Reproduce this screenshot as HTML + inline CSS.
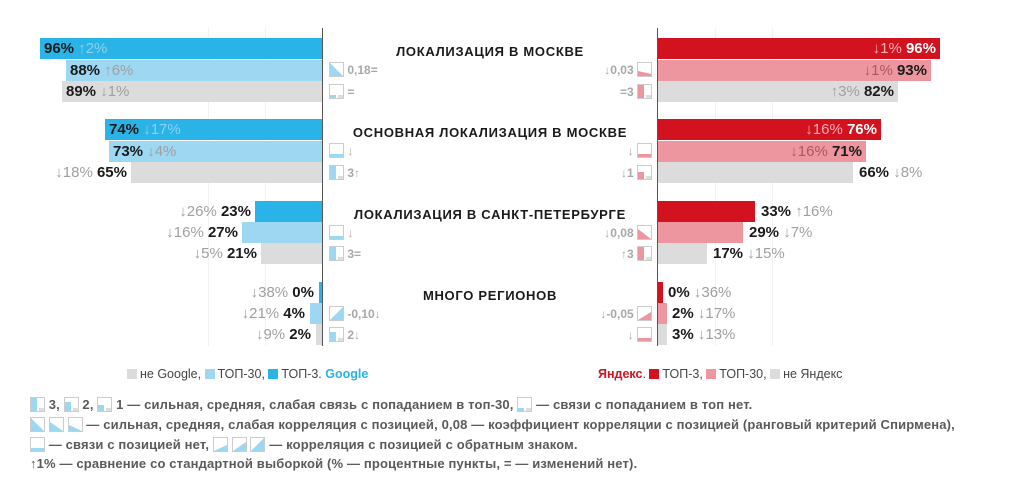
<!DOCTYPE html>
<html><head><meta charset="utf-8"><style>
body{margin:0;width:1024px;height:492px;background:#fff;position:relative;overflow:hidden;font-family:"Liberation Sans",sans-serif}
.b{position:absolute;height:21px}
.t{position:absolute;font-size:15px;font-weight:bold;color:#1a1a1a;line-height:21px;white-space:nowrap}
.t i{font-style:normal;color:#a0a0a0;font-weight:normal}
.h{position:absolute;left:322px;width:336px;text-align:center;font-size:13px;font-weight:bold;letter-spacing:0.7px;color:#1a1a1a}
.ic{position:absolute;font-size:12px;color:#a8a8a8;font-weight:bold;line-height:16px;white-space:nowrap}
.vl{position:absolute;top:28px;height:318px;width:1px;background:#555}
.g{position:absolute;top:28px;height:318px;width:1px;background:#f2f2f2}
.lg{position:absolute;top:367px;font-size:12.5px;color:#444;white-space:nowrap}
.sq{display:inline-block;width:10px;height:10px;vertical-align:-1px;margin-right:3px}
.fn{position:absolute;left:30px;font-size:13px;font-weight:bold;color:#5a5a5a;white-space:nowrap;letter-spacing:0.15px}
svg{vertical-align:-3px}
</style></head><body>
<div class="g" style="left:208px"></div><div class="g" style="left:265px"></div>
<div class="g" style="left:715px"></div><div class="g" style="left:772px"></div>
<div class="vl" style="left:322px"></div><div class="vl" style="left:657px"></div>

<div class="b" style="top:38px;left:40px;width:282px;background:#29b3e6"></div>
<div class="b" style="top:60px;left:66px;width:256px;background:#9dd7f1"></div>
<div class="b" style="top:81px;left:62px;width:260px;background:#dcdcdc"></div>
<div class="b" style="top:119px;left:105px;width:217px;background:#29b3e6"></div>
<div class="b" style="top:141px;left:109px;width:213px;background:#9dd7f1"></div>
<div class="b" style="top:162px;left:131px;width:191px;background:#dcdcdc"></div>
<div class="b" style="top:201px;left:255px;width:67px;background:#29b3e6"></div>
<div class="b" style="top:222px;left:242px;width:80px;background:#9dd7f1"></div>
<div class="b" style="top:243px;left:261px;width:61px;background:#dcdcdc"></div>
<div class="b" style="top:282px;left:319px;width:3px;background:#29b3e6"></div>
<div class="b" style="top:303px;left:310px;width:12px;background:#9dd7f1"></div>
<div class="b" style="top:324px;left:316px;width:6px;background:#dcdcdc"></div>

<div class="t" style="top:38px;left:44px">96% <i style="color:#8fd0ee">↑2%</i></div>
<div class="t" style="top:60px;left:70px">88% <i>↑6%</i></div>
<div class="t" style="top:81px;left:66px">89% <i>↓1%</i></div>
<div class="t" style="top:119px;left:109px">74% <i style="color:#8fd0ee">↓17%</i></div>
<div class="t" style="top:141px;left:113px">73% <i>↓4%</i></div>
<div class="t" style="top:162px;right:897px"><i>↓18%</i> 65%</div>
<div class="t" style="top:201px;right:773px"><i>↓26%</i> 23%</div>
<div class="t" style="top:222px;right:786px"><i>↓16%</i> 27%</div>
<div class="t" style="top:243px;right:767px"><i>↓5%</i> 21%</div>
<div class="t" style="top:282px;right:710px"><i>↓38%</i> 0%</div>
<div class="t" style="top:303px;right:719px"><i>↓21%</i> 4%</div>
<div class="t" style="top:324px;right:713px"><i>↓9%</i> 2%</div>

<div class="b" style="top:38px;left:658px;width:282px;background:#d2121f"></div>
<div class="b" style="top:60px;left:658px;width:273px;background:#ee969f"></div>
<div class="b" style="top:81px;left:658px;width:240px;background:#dcdcdc"></div>
<div class="b" style="top:119px;left:658px;width:223px;background:#d2121f"></div>
<div class="b" style="top:141px;left:658px;width:208px;background:#ee969f"></div>
<div class="b" style="top:162px;left:658px;width:195px;background:#dcdcdc"></div>
<div class="b" style="top:201px;left:658px;width:97px;background:#d2121f"></div>
<div class="b" style="top:222px;left:658px;width:85px;background:#ee969f"></div>
<div class="b" style="top:243px;left:658px;width:49px;background:#dcdcdc"></div>
<div class="b" style="top:282px;left:658px;width:5px;background:#d2121f"></div>
<div class="b" style="top:303px;left:658px;width:9px;background:#ee969f"></div>
<div class="b" style="top:324px;left:658px;width:9px;background:#dcdcdc"></div>

<div class="t" style="top:38px;right:88px"><i style="color:#f3b0b6">↓1%</i> <span style="color:#fff">96%</span></div>
<div class="t" style="top:60px;right:97px"><i style="color:#b05560">↓1%</i> 93%</div>
<div class="t" style="top:81px;right:130px"><i>↑3%</i> 82%</div>
<div class="t" style="top:119px;right:147px"><i style="color:#f3b0b6">↓16%</i> <span style="color:#fff">76%</span></div>
<div class="t" style="top:141px;right:162px"><i style="color:#b05560">↓16%</i> 71%</div>
<div class="t" style="top:162px;left:859px">66% <i>↓8%</i></div>
<div class="t" style="top:201px;left:761px">33% <i>↑16%</i></div>
<div class="t" style="top:222px;left:749px">29% <i>↓7%</i></div>
<div class="t" style="top:243px;left:713px">17% <i>↓15%</i></div>
<div class="t" style="top:282px;left:668px">0% <i>↓36%</i></div>
<div class="t" style="top:303px;left:672px">2% <i>↓17%</i></div>
<div class="t" style="top:324px;left:672px">3% <i>↓13%</i></div>

<div class="h" style="top:44px">ЛОКАЛИЗАЦИЯ В МОСКВЕ</div>
<div class="h" style="top:125px">ОСНОВНАЯ ЛОКАЛИЗАЦИЯ В МОСКВЕ</div>
<div class="h" style="top:207px">ЛОКАЛИЗАЦИЯ В САНКТ-ПЕТЕРБУРГЕ</div>
<div class="h" style="top:288px">МНОГО РЕГИОНОВ</div>

<div class="ic" style="top:62px;left:329px"><svg width="15" height="15"><rect x=".5" y=".5" width="14" height="14" fill="#fff" stroke="#ccc"/><polygon points="1,1 14,14 1,14" fill="#9dd7f1"/></svg> 0,18=</div>
<div class="ic" style="top:84px;left:329px"><svg width="15" height="15"><rect x=".5" y=".5" width="14" height="14" fill="#fff" stroke="#ccc"/><rect x="1" y="11" width="6" height="3" fill="#9dd7f1"/><rect x="9" y="11" width="5" height="3" fill="#ddd"/></svg> =</div>
<div class="ic" style="top:143px;left:329px"><svg width="15" height="15"><rect x=".5" y=".5" width="14" height="14" fill="#fff" stroke="#ccc"/><rect x="1" y="11" width="13" height="3" fill="#9dd7f1"/></svg> ↓</div>
<div class="ic" style="top:165px;left:329px"><svg width="15" height="15"><rect x=".5" y=".5" width="14" height="14" fill="#fff" stroke="#ccc"/><rect x="1" y="1" width="6" height="13" fill="#9dd7f1"/><rect x="9" y="11" width="5" height="3" fill="#ddd"/></svg> 3↑</div>
<div class="ic" style="top:225px;left:329px"><svg width="15" height="15"><rect x=".5" y=".5" width="14" height="14" fill="#fff" stroke="#ccc"/><rect x="1" y="11" width="13" height="3" fill="#9dd7f1"/></svg> ↓</div>
<div class="ic" style="top:246px;left:329px"><svg width="15" height="15"><rect x=".5" y=".5" width="14" height="14" fill="#fff" stroke="#ccc"/><rect x="1" y="1" width="6" height="13" fill="#9dd7f1"/><rect x="9" y="11" width="5" height="3" fill="#ddd"/></svg> 3=</div>
<div class="ic" style="top:306px;left:329px"><svg width="15" height="15"><rect x=".5" y=".5" width="14" height="14" fill="#fff" stroke="#ccc"/><polygon points="1,14 14,1 14,14" fill="#9dd7f1"/></svg> -0,10↓</div>
<div class="ic" style="top:327px;left:329px"><svg width="15" height="15"><rect x=".5" y=".5" width="14" height="14" fill="#fff" stroke="#ccc"/><rect x="1" y="5" width="6" height="9" fill="#9dd7f1"/><rect x="9" y="11" width="5" height="3" fill="#ddd"/></svg> 2↓</div>

<div class="ic" style="top:62px;right:372px">↓0,03 <svg width="15" height="15"><rect x=".5" y=".5" width="14" height="14" fill="#fff" stroke="#ccc"/><polygon points="1,9 14,12 14,14 1,14" fill="#ee969f"/></svg></div>
<div class="ic" style="top:84px;right:372px">=3 <svg width="15" height="15"><rect x=".5" y=".5" width="14" height="14" fill="#fff" stroke="#ccc"/><rect x="1" y="1" width="6" height="13" fill="#ee969f"/><rect x="9" y="11" width="5" height="3" fill="#ddd"/></svg></div>
<div class="ic" style="top:143px;right:372px">↓ <svg width="15" height="15"><rect x=".5" y=".5" width="14" height="14" fill="#fff" stroke="#ccc"/><rect x="1" y="11" width="13" height="3" fill="#ee969f"/></svg></div>
<div class="ic" style="top:165px;right:372px">↓1 <svg width="15" height="15"><rect x=".5" y=".5" width="14" height="14" fill="#fff" stroke="#ccc"/><rect x="1" y="7" width="6" height="7" fill="#ee969f"/><rect x="9" y="11" width="5" height="3" fill="#ddd"/></svg></div>
<div class="ic" style="top:225px;right:372px">↓0,08 <svg width="15" height="15"><rect x=".5" y=".5" width="14" height="14" fill="#fff" stroke="#ccc"/><polygon points="1,4 14,14 1,14" fill="#ee969f"/></svg></div>
<div class="ic" style="top:246px;right:372px">↑3 <svg width="15" height="15"><rect x=".5" y=".5" width="14" height="14" fill="#fff" stroke="#ccc"/><rect x="1" y="1" width="6" height="13" fill="#ee969f"/><rect x="9" y="11" width="5" height="3" fill="#ddd"/></svg></div>
<div class="ic" style="top:306px;right:372px">↓-0,05 <svg width="15" height="15"><rect x=".5" y=".5" width="14" height="14" fill="#fff" stroke="#ccc"/><polygon points="1,14 14,6 14,14" fill="#ee969f"/></svg></div>
<div class="ic" style="top:327px;right:372px">↓ <svg width="15" height="15"><rect x=".5" y=".5" width="14" height="14" fill="#fff" stroke="#ccc"/><rect x="1" y="11" width="13" height="3" fill="#ee969f"/></svg></div>

<div class="lg" style="left:127px"><span class="sq" style="background:#dcdcdc"></span>не Google, <span class="sq" style="background:#9dd7f1"></span>ТОП-30, <span class="sq" style="background:#29b3e6"></span>ТОП-3. <b style="color:#29b3e6">Google</b></div>
<div class="lg" style="left:598px"><b style="color:#d2121f">Яндекс</b>. <span class="sq" style="background:#d2121f"></span>ТОП-3, <span class="sq" style="background:#ee969f"></span>ТОП-30, <span class="sq" style="background:#dcdcdc"></span>не Яндекс</div>

<div class="fn" style="top:397px"><svg width="15" height="15"><rect x=".5" y=".5" width="14" height="14" fill="#fff" stroke="#ccc"/><rect x="1" y="1" width="6" height="13" fill="#9dd7f1"/><rect x="9" y="11" width="5" height="3" fill="#ddd"/></svg> 3, <svg width="15" height="15"><rect x=".5" y=".5" width="14" height="14" fill="#fff" stroke="#ccc"/><rect x="1" y="5" width="6" height="9" fill="#9dd7f1"/><rect x="9" y="11" width="5" height="3" fill="#ddd"/></svg> 2, <svg width="15" height="15"><rect x=".5" y=".5" width="14" height="14" fill="#fff" stroke="#ccc"/><rect x="1" y="8" width="6" height="6" fill="#9dd7f1"/><rect x="9" y="11" width="5" height="3" fill="#ddd"/></svg> 1 — сильная, средняя, слабая связь с попаданием в топ-30, <svg width="15" height="15"><rect x=".5" y=".5" width="14" height="14" fill="#fff" stroke="#ccc"/><rect x="1" y="11" width="6" height="3" fill="#9dd7f1"/><rect x="9" y="11" width="5" height="3" fill="#ddd"/></svg> — связи с попаданием в топ нет.</div>
<div class="fn" style="top:417px"><svg width="15" height="15"><rect x=".5" y=".5" width="14" height="14" fill="#fff" stroke="#ccc"/><polygon points="1,1 14,14 1,14" fill="#9dd7f1"/></svg> <svg width="15" height="15"><rect x=".5" y=".5" width="14" height="14" fill="#fff" stroke="#ccc"/><polygon points="1,5 14,14 1,14" fill="#9dd7f1"/></svg> <svg width="15" height="15"><rect x=".5" y=".5" width="14" height="14" fill="#fff" stroke="#ccc"/><polygon points="1,8 14,14 1,14" fill="#9dd7f1"/></svg> — сильная, средняя, слабая корреляция с позицией, 0,08 — коэффициент корреляции с позицией (ранговый критерий Спирмена),</div>
<div class="fn" style="top:437px"><svg width="15" height="15"><rect x=".5" y=".5" width="14" height="14" fill="#fff" stroke="#ccc"/><rect x="1" y="11" width="13" height="3" fill="#9dd7f1"/></svg> — связи с позицией нет, <svg width="15" height="15"><rect x=".5" y=".5" width="14" height="14" fill="#fff" stroke="#ccc"/><polygon points="1,14 14,8 14,14" fill="#9dd7f1"/></svg> <svg width="15" height="15"><rect x=".5" y=".5" width="14" height="14" fill="#fff" stroke="#ccc"/><polygon points="1,14 14,5 14,14" fill="#9dd7f1"/></svg> <svg width="15" height="15"><rect x=".5" y=".5" width="14" height="14" fill="#fff" stroke="#ccc"/><polygon points="1,14 14,1 14,14" fill="#9dd7f1"/></svg> — корреляция с позицией с обратным знаком.</div>
<div class="fn" style="top:456px">↑1% — сравнение со стандартной выборкой (% — процентные пункты, = — изменений нет).</div>
</body></html>
